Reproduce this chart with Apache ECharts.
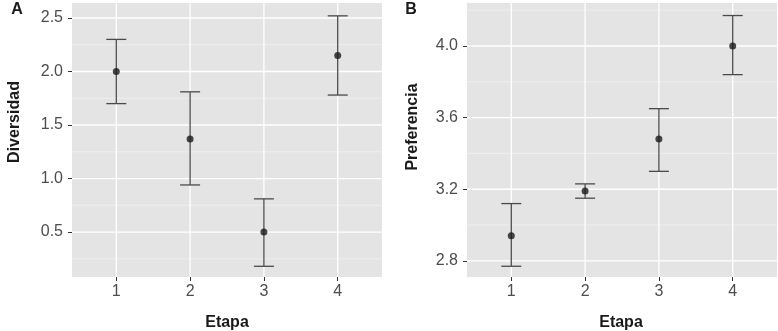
<!DOCTYPE html>
<html>
<head>
<meta charset="utf-8">
<style>
html, body { margin: 0; padding: 0; background: #fff; }
#chart { width: 778px; height: 331px; }
</style>
<script src="https://cdn.jsdelivr.net/npm/echarts@6/dist/echarts.min.js"></script>
</head>
<body>
<div id="chart"></div>
<script>
'use strict';
// valores
var etapas = [1, 2, 3, 4];

// panel A: diversidad (media e intervalo)
var divMedia = [2.00, 1.37, 0.50, 2.15];
var divBajo = [1.70, 0.94, 0.18, 1.78];
var divAlto = [2.30, 1.81, 0.81, 2.52];
var divTicks = [0.5, 1.0, 1.5, 2.0, 2.5];
var divMenores = [0.25, 0.75, 1.25, 1.75, 2.25];

// panel B: preferencia
var prefMedia = [2.94, 3.19, 3.48, 4.00];
var prefBajo = [2.77, 3.15, 3.30, 3.84];
var prefAlto = [3.12, 3.23, 3.65, 4.17];
var prefTicks = [2.8, 3.2, 3.6, 4.0];
var prefMenores = [3.0, 3.4, 3.8, 4.2];

var fuente = '"Liberation Sans", Arial, Helvetica, sans-serif';
var colorTexto = '#4d4d4d';
var colorTitulo = '#1a1a1a';

var chart = echarts.init(document.getElementById('chart'), null, { renderer: 'canvas' });

function barras(bajo, alto) {
    return etapas.map(function (e, i) {
        return [e, bajo[i], alto[i]];
    });
}

function puntos(media) {
    return etapas.map(function (e, i) {
        return [e, media[i]];
    });
}

function rejillaH(ticks, menores) {
    return ticks.map(function (v) { return [1, v, 1]; })
        .concat(menores.map(function (v) { return [1, v, 0]; }));
}

function rejillaV() {
    return etapas.map(function (e) { return [e, 0, 1]; });
}

// barra de error con sus dos topes
function renderBarra(params, api) {
    var x = api.value(0);
    var arriba = api.coord([x, api.value(2)]);
    var abajo = api.coord([x, api.value(1)]);
    var w = 10;
    var estilo = { stroke: '#4a4a4a', lineWidth: 1.3, fill: null };
    return {
        type: 'group',
        children: [
            { type: 'line', shape: { x1: arriba[0], y1: arriba[1], x2: abajo[0], y2: abajo[1] }, style: estilo },
            { type: 'line', shape: { x1: arriba[0] - w, y1: arriba[1], x2: arriba[0] + w, y2: arriba[1] }, style: estilo },
            { type: 'line', shape: { x1: abajo[0] - w, y1: abajo[1], x2: abajo[0] + w, y2: abajo[1] }, style: estilo }
        ]
    };
}

function renderRejillaH(params, api) {
    var cs = params.coordSys;
    var y = api.coord([api.value(0), api.value(1)])[1];
    var mayor = api.value(2) === 1;
    return {
        type: 'line',
        silent: true,
        shape: { x1: cs.x, y1: y, x2: cs.x + cs.width, y2: y },
        style: { stroke: mayor ? '#ffffff' : '#f4f4f4', lineWidth: mayor ? 1.3 : 0.7 }
    };
}

function renderRejillaV(params, api) {
    var cs = params.coordSys;
    var x = api.coord([api.value(0), api.value(1)])[0];
    return {
        type: 'line',
        silent: true,
        shape: { x1: x, y1: cs.y, x2: x, y2: cs.y + cs.height },
        style: { stroke: '#ffffff', lineWidth: 1.3 }
    };
}

function ejeX(idx) {
    return {
        gridIndex: idx,
        type: 'value',
        min: 0.4,
        max: 4.6,
        axisLine: { show: false },
        splitLine: { show: false },
        axisTick: { show: true, customValues: etapas, length: 4, lineStyle: { color: '#333', width: 1 } },
        axisLabel: { customValues: etapas, margin: 7, fontSize: 16, color: colorTexto, fontFamily: fuente }
    };
}

function ejeY(idx, min, max, ticks) {
    return {
        gridIndex: idx,
        type: 'value',
        min: min,
        max: max,
        axisLine: { show: false },
        splitLine: { show: false },
        axisTick: { show: true, customValues: ticks, length: 4, lineStyle: { color: '#333', width: 1 } },
        axisLabel: {
            customValues: ticks,
            margin: 9,
            fontSize: 16,
            color: colorTexto,
            fontFamily: fuente,
            formatter: function (v) { return v.toFixed(1); }
        }
    };
}

function texto(t, x, y, rot, size) {
    return {
        type: 'text',
        x: x,
        y: y,
        rotation: rot,
        style: {
            text: t,
            fontSize: size,
            fontWeight: 'bold',
            fontFamily: fuente,
            fill: colorTitulo,
            align: 'center',
            verticalAlign: 'middle'
        }
    };
}

var option = {
    animation: false,
    grid: [
        { left: 72, right: 396, top: 3, bottom: 54, show: true, backgroundColor: '#e4e4e4', borderWidth: 0 },
        { left: 467, right: 1, top: 3, bottom: 54, show: true, backgroundColor: '#e4e4e4', borderWidth: 0 }
    ],
    xAxis: [ejeX(0), ejeX(1)],
    yAxis: [
        ejeY(0, 0.08, 2.64, divTicks),
        ejeY(1, 2.71, 4.24, prefTicks)
    ],
    graphic: [
        texto('A', 17, 10, 0, 16),
        texto('B', 411, 10, 0, 16),
        texto('Diversidad', 15, 122, Math.PI / 2, 16),
        texto('Preferencia', 413, 127, Math.PI / 2, 16),
        texto('Etapa', 227, 323, 0, 16),
        texto('Etapa', 621, 323, 0, 16)
    ],
    series: [
        { type: 'custom', xAxisIndex: 0, yAxisIndex: 0, z: 1, silent: true, renderItem: renderRejillaH, data: rejillaH(divTicks, divMenores) },
        { type: 'custom', xAxisIndex: 0, yAxisIndex: 0, z: 1, silent: true, renderItem: renderRejillaV, data: rejillaV() },
        { type: 'custom', xAxisIndex: 1, yAxisIndex: 1, z: 1, silent: true, renderItem: renderRejillaH, data: rejillaH(prefTicks, prefMenores) },
        { type: 'custom', xAxisIndex: 1, yAxisIndex: 1, z: 1, silent: true, renderItem: renderRejillaV, data: rejillaV() },
        { name: 'Diversidad IC', type: 'custom', xAxisIndex: 0, yAxisIndex: 0, z: 3, renderItem: renderBarra, data: barras(divBajo, divAlto) },
        { name: 'Preferencia IC', type: 'custom', xAxisIndex: 1, yAxisIndex: 1, z: 3, renderItem: renderBarra, data: barras(prefBajo, prefAlto) },
        { name: 'Diversidad', type: 'scatter', xAxisIndex: 0, yAxisIndex: 0, z: 4, symbolSize: 7, itemStyle: { color: '#1a1a1a' }, data: puntos(divMedia) },
        { name: 'Preferencia', type: 'scatter', xAxisIndex: 1, yAxisIndex: 1, z: 4, symbolSize: 7, itemStyle: { color: '#1a1a1a' }, data: puntos(prefMedia) }
    ]
};
chart.setOption(option);
</script>
</body>
</html>
